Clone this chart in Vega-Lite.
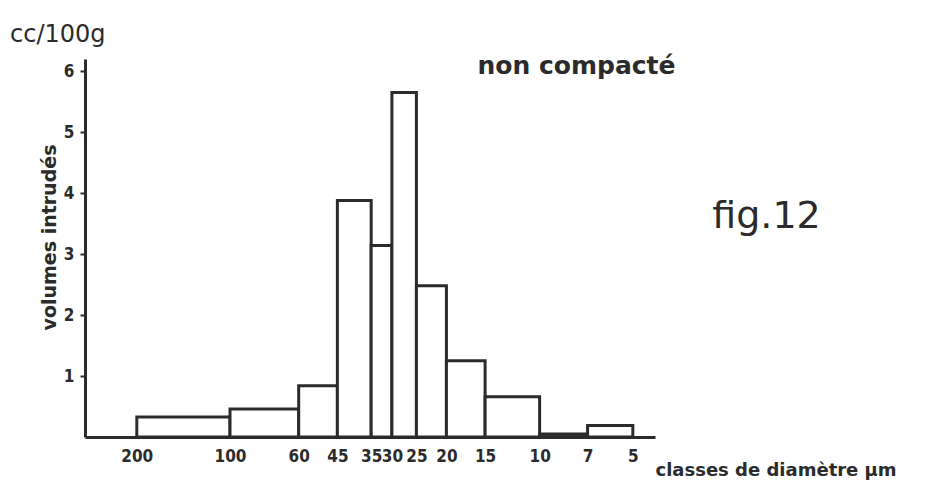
{
  "$schema": "https://vega.github.io/schema/vega-lite/v6.json",
  "width": 570,
  "height": 378,
  "autosize": {"type": "none"},
  "padding": {"left": 85, "top": 59, "right": 271, "bottom": 53},
  "background": "white",
  "title": {
    "text": "cc/100g",
    "anchor": "start",
    "frame": "group",
    "orient": "top",
    "baseline": "alphabetic",
    "dx": -75,
    "dy": 29,
    "offset": 16,
    "font": "DejaVu Sans",
    "fontSize": 24,
    "fontWeight": "normal",
    "color": "#2b2b2b"
  },
  "data": {
    "values": [
      {"dmax": 200, "dmin": 100, "v": 0.33},
      {"dmax": 100, "dmin": 60, "v": 0.46},
      {"dmax": 60, "dmin": 45, "v": 0.84},
      {"dmax": 45, "dmin": 35, "v": 3.88},
      {"dmax": 35, "dmin": 30, "v": 3.14},
      {"dmax": 30, "dmin": 25, "v": 5.65},
      {"dmax": 25, "dmin": 20, "v": 2.48},
      {"dmax": 20, "dmin": 15, "v": 1.25},
      {"dmax": 15, "dmin": 10, "v": 0.66},
      {"dmax": 10, "dmin": 7, "v": 0.05},
      {"dmax": 7, "dmin": 5, "v": 0.19}
    ]
  },
  "layer": [
    {
      "mark": {"type": "rect", "fill": "white", "stroke": "#2b2b2b", "strokeWidth": 3},
      "encoding": {
        "x": {
          "field": "dmax",
          "type": "quantitative",
          "scale": {"type": "log", "domain": [4.24, 294], "reverse": true, "nice": false, "zero": false},
          "axis": {
            "orient": "bottom",
            "values": [200, 100, 60, 45, 35, 30, 25, 20, 15, 10, 7, 5],
            "format": "d",
            "ticks": false,
            "grid": false,
            "labelOverlap": false,
            "labelFlush": false,
            "labelPadding": 11,
            "labelFont": "DejaVu Sans Condensed",
            "labelFontSize": 17,
            "labelFontWeight": "bold",
            "labelColor": "#2b2b2b",
            "domainColor": "#2b2b2b",
            "domainWidth": 3,
            "title": "classes de diamètre µm",
            "titleFont": "DejaVu Sans",
            "titleFontSize": 18,
            "titleFontWeight": "bold",
            "titleColor": "#2b2b2b",
            "titleAlign": "left",
            "titleAnchor": "start",
            "titleBaseline": "alphabetic",
            "titleX": 570,
            "titleY": 38
          }
        },
        "x2": {"field": "dmin"},
        "y": {
          "field": "v",
          "type": "quantitative",
          "scale": {"domain": [0, 6.2], "nice": false, "zero": true},
          "axis": {
            "orient": "left",
            "values": [1, 2, 3, 4, 5, 6],
            "grid": false,
            "tickSize": 5,
            "tickWidth": 2,
            "tickColor": "#2b2b2b",
            "labelPadding": 6,
            "labelFont": "DejaVu Sans Condensed",
            "labelFontSize": 17,
            "labelFontWeight": "bold",
            "labelColor": "#2b2b2b",
            "domainColor": "#2b2b2b",
            "domainWidth": 3,
            "title": "volumes intrudés",
            "titleFont": "DejaVu Sans",
            "titleFontSize": 19,
            "titleFontWeight": "bold",
            "titleColor": "#2b2b2b",
            "titleAngle": -90,
            "titleAlign": "center",
            "titleBaseline": "middle",
            "titleX": -36,
            "titleY": 178
          }
        },
        "y2": {"datum": 0}
      }
    },
    {
      "mark": {"type": "point", "opacity": 0},
      "encoding": {
        "x": {
          "field": "dmax",
          "type": "quantitative",
          "axis": {
            "orient": "top",
            "domain": false,
            "ticks": false,
            "labels": false,
            "grid": false,
            "title": "non compacté",
            "titleFont": "DejaVu Sans",
            "titleFontSize": 25,
            "titleFontWeight": "bold",
            "titleColor": "#2b2b2b",
            "titleAlign": "center",
            "titleBaseline": "alphabetic",
            "titleX": 491,
            "titleY": 14
          }
        },
        "y": {
          "field": "v",
          "type": "quantitative",
          "axis": {
            "orient": "right",
            "domain": false,
            "ticks": false,
            "labels": false,
            "grid": false,
            "title": "fig.12",
            "titleFont": "DejaVu Sans",
            "titleFontSize": 38,
            "titleFontWeight": "normal",
            "titleColor": "#2b2b2b",
            "titleAngle": 0,
            "titleAlign": "center",
            "titleBaseline": "alphabetic",
            "titleX": 111,
            "titleY": 168
          }
        }
      }
    }
  ],
  "resolve": {"axis": {"x": "independent", "y": "independent"}},
  "config": {"view": {"stroke": null}}
}
